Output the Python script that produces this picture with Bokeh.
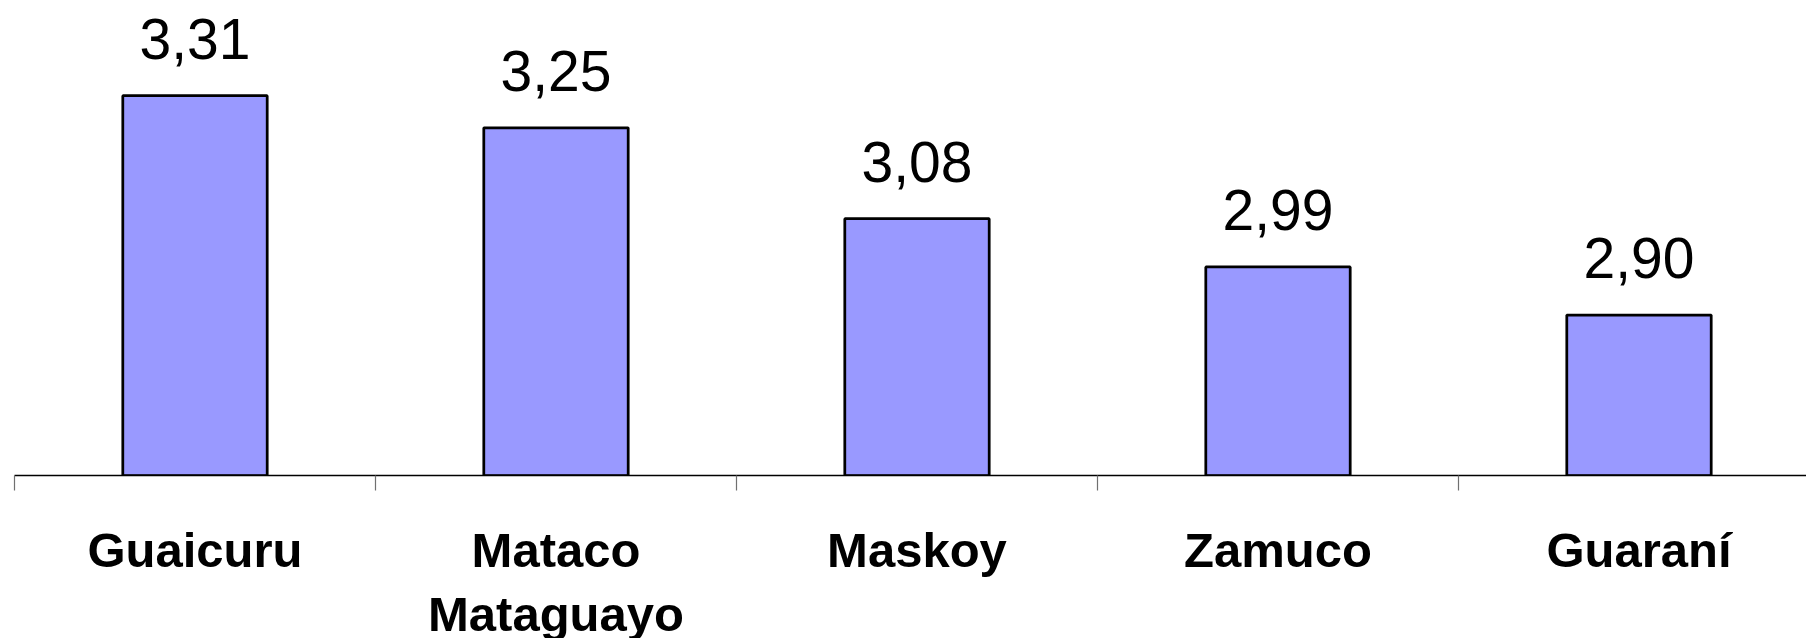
from bokeh.plotting import figure
from bokeh.layouts import column
from bokeh.models import ColumnDataSource, LabelSet, LinearAxis, FixedTicker, Range1d
from bokeh.core.properties import value
from bokeh.embed import file_html
from bokeh.resources import INLINE

# ---- data ----
categories = ["Guaicuru", "Mataco\nMataguayo", "Maskoy", "Zamuco", "Guaraní"]
values = [3.31, 3.25, 3.08, 2.99, 2.90]
value_labels = ["3,31", "3,25", "3,08", "2,99", "2,90"]
y_min = 2.6
y_max = 3.488

xs = [i + 0.5 for i in range(len(categories))]
bounds = [float(i) for i in range(len(categories) + 1)]
line1 = [c.split("\n")[0] for c in categories]
line2 = [c.split("\n")[1] if "\n" in c else "" for c in categories]

src = ColumnDataSource(dict(x=xs, top=values, lab=value_labels))
cat_src = ColumnDataSource(dict(x=xs, y=[1.0] * len(xs), l1=line1, l2=line2))

x_range = Range1d(0, 1792 / 361)

# ---- main chart ----
p = figure(width=1806, height=495, output_backend="svg", toolbar_location=None,
           x_range=x_range, y_range=Range1d(y_min, y_max),
           x_axis_location=None, y_axis_location=None,
           min_border_left=14, min_border_right=0, min_border_top=0, min_border_bottom=20)
p.outline_line_color = None
p.xgrid.visible = False
p.ygrid.visible = False

p.vbar(x="x", top="top", bottom=y_min, width=0.4, source=src,
       fill_color="#9999FF", line_color="black", line_width=2.75)

labels = LabelSet(x="x", y="top", text="lab", source=src, text_align="center",
                  text_baseline="alphabetic", y_offset=37,
                  text_font=value("Liberation Sans"), text_font_size="57px",
                  text_color="black")
p.add_layout(labels)

ax = LinearAxis(ticker=FixedTicker(ticks=[], minor_ticks=bounds))
ax.major_label_standoff = 0
ax.axis_line_color = "black"
ax.axis_line_width = 1.5
ax.major_tick_in = 0
ax.major_tick_out = 0
ax.minor_tick_in = 0
ax.minor_tick_out = 15
ax.minor_tick_line_color = "#707070"
ax.minor_tick_line_width = 1.2
p.add_layout(ax, "below")

# ---- category labels strip ----
q = figure(width=1806, height=143, output_backend="svg", toolbar_location=None,
           x_range=x_range, y_range=Range1d(0, 1),
           x_axis_location=None, y_axis_location=None,
           min_border_left=14, min_border_right=0, min_border_top=0, min_border_bottom=0)
q.outline_line_color = None
q.xgrid.visible = False
q.ygrid.visible = False

for col, off in (("l1", -71), ("l2", -135)):
    cat = LabelSet(x="x", y="y", text=col, source=cat_src, text_align="center",
                   text_baseline="alphabetic", y_offset=off,
                   text_font=value("Liberation Sans"), text_font_style="bold",
                   text_font_size="49px", text_color="black")
    q.add_layout(cat)

layout = column(p, q, spacing=0)
open("out.html", "w").write(file_html(layout, INLINE))
